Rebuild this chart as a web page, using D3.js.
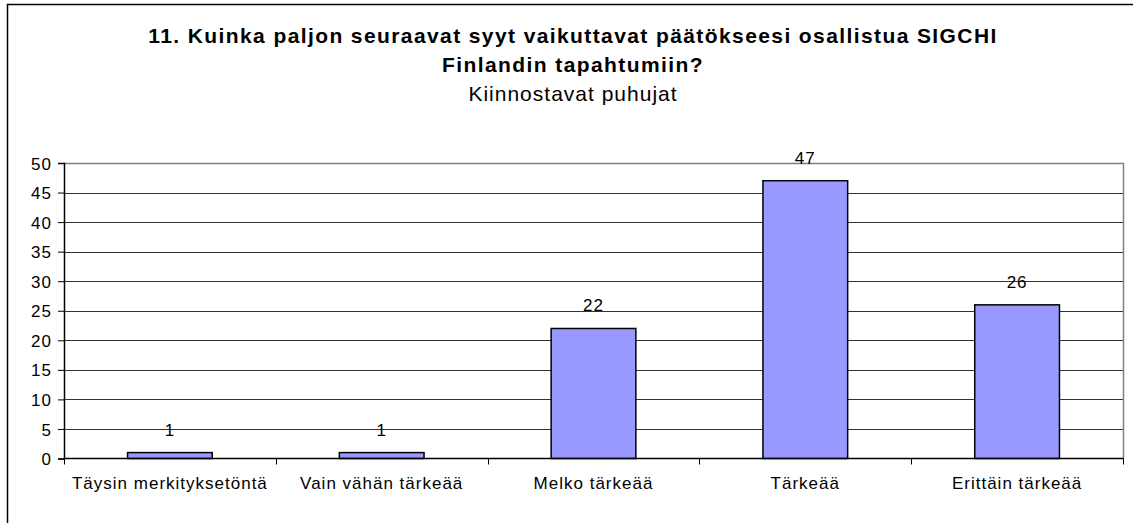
<!DOCTYPE html>
<html>
<head>
  <meta charset="utf-8">
  <title>Kiinnostavat puhujat</title>
  <script src="https://d3js.org/d3.v7.min.js"></script>
  <style>
    body { margin: 0; background: #fff; }
    svg text { font-family: "Liberation Sans", Arial, sans-serif; fill: #000; }
    .title { font-size: 21px; font-weight: bold; letter-spacing: 1.4px; }
    .subtitle { font-size: 21px; letter-spacing: 1px; }
    .lbl { font-size: 17px; letter-spacing: 1px; }
  </style>
</head>
<body>
<script>
  // Chart data
  const categories = ["Täysin merkityksetöntä", "Vain vähän tärkeää", "Melko tärkeää", "Tärkeää", "Erittäin tärkeää"];
  const values = [1, 1, 22, 47, 26];
  const yTicks = [0, 5, 10, 15, 20, 25, 30, 35, 40, 45, 50];
  const titleLines = ["11. Kuinka paljon seuraavat syyt vaikuttavat päätökseesi osallistua SIGCHI", "Finlandin tapahtumiin?"];
  const subtitle = "Kiinnostavat puhujat";

  const width = 1133, height = 523;
  const plot = { left: 64, right: 1123, top: 163, bottom: 458.5 };

  const svg = d3.select("body").append("svg")
      .attr("width", width)
      .attr("height", height);

  // outer frame (cut off on right and bottom in original)
  svg.append("rect")
      .attr("x", 7.5).attr("y", 4.5)
      .attr("width", width).attr("height", height)
      .attr("fill", "none").attr("stroke", "#000").attr("stroke-width", 1.5);

  // titles
  const cx = 573;
  svg.selectAll(".title")
    .data(titleLines)
    .enter().append("text")
      .attr("class", "title")
      .attr("x", cx)
      .attr("y", (d, i) => 43 + i * 29)
      .attr("text-anchor", "middle")
      .text(d => d);

  svg.append("text")
      .attr("class", "subtitle")
      .attr("x", cx).attr("y", 101)
      .attr("text-anchor", "middle")
      .text(subtitle);

  const x = d3.scaleBand()
      .domain(categories)
      .range([plot.left, plot.right])
      .paddingInner(0.6)
      .paddingOuter(0.3);

  const y = d3.scaleLinear()
      .domain([0, 50])
      .range([plot.bottom, plot.top]);

  // gridlines
  svg.append("g")
    .selectAll("line")
    .data(yTicks.filter(t => t > 0 && t < 50))
    .enter().append("line")
      .attr("x1", plot.left).attr("x2", plot.right)
      .attr("y1", d => Math.round(y(d)) + 0.5)
      .attr("y2", d => Math.round(y(d)) + 0.5)
      .attr("stroke", "#333");

  // plot border top/right (gray)
  svg.append("path")
      .attr("d", `M${plot.left},${plot.top + 0.5}H${plot.right + 0.5}V${plot.bottom}`)
      .attr("fill", "none")
      .attr("stroke", "#808080")
      .attr("stroke-width", 1.5);

  // bars
  svg.selectAll(".bar")
    .data(values)
    .enter().append("rect")
      .attr("class", "bar")
      .attr("x", (d, i) => x(categories[i]))
      .attr("y", d => y(d))
      .attr("width", x.bandwidth())
      .attr("height", d => y(0) - y(d))
      .attr("fill", "#9999FF")
      .attr("stroke", "#000")
      .attr("stroke-width", 1.5);

  // value labels
  svg.selectAll(".value")
    .data(values)
    .enter().append("text")
      .attr("class", "lbl")
      .attr("x", (d, i) => x(categories[i]) + x.bandwidth() / 2)
      .attr("y", d => y(d) - 17)
      .attr("text-anchor", "middle")
      .text(d => d);

  // y axis
  const yAxis = svg.append("g")
      .attr("transform", `translate(${plot.left},0)`)
      .call(d3.axisLeft(y).tickValues(yTicks).tickSize(6).tickPadding(6));
  yAxis.select(".domain").attr("stroke", "#000").attr("stroke-width", 1.5);
  yAxis.selectAll(".tick line").attr("stroke", "#000");
  yAxis.selectAll(".tick text")
      .attr("font-family", null).attr("font-size", null)
      .attr("class", "lbl").attr("dy", "0.36em");

  // x axis with ticks at category boundaries
  const bounds = d3.range(categories.length + 1).map(i => plot.left + i * (plot.right - plot.left) / categories.length);
  const xAxis = svg.append("g")
      .attr("transform", `translate(0,${plot.bottom})`);
  xAxis.append("line")
      .attr("x1", plot.left).attr("x2", plot.right + 0.5)
      .attr("stroke", "#000").attr("stroke-width", 1.5);
  xAxis.selectAll(".xtick")
    .data(bounds)
    .enter().append("line")
      .attr("x1", d => Math.round(d) + 0.5).attr("x2", d => Math.round(d) + 0.5)
      .attr("y1", 0).attr("y2", 6)
      .attr("stroke", "#000");
  xAxis.selectAll(".xlabel")
    .data(categories)
    .enter().append("text")
      .attr("class", "lbl")
      .attr("x", d => x(d) + x.bandwidth() / 2)
      .attr("y", 30)
      .attr("text-anchor", "middle")
      .text(d => d);
</script>
</body>
</html>
